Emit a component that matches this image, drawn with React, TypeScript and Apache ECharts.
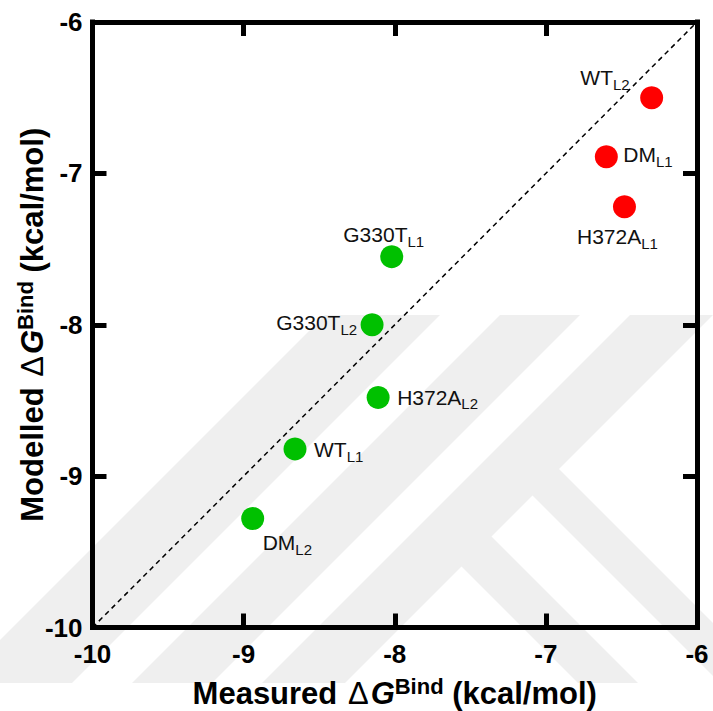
import React, { useEffect, useRef } from 'react';
import * as echarts from 'echarts';

// ---------- data ----------
const axisMin = -10;
const axisMax = -6;
const axisStep = 1;

const redNames = ['WT', 'DM', 'H372A'];
const redSubs = ['L2', 'L1', 'L1'];
const redMeasured = [-6.30, -6.60, -6.48];
const redModelled = [-6.50, -6.89, -7.22];

const greenNames = ['G330T', 'G330T', 'H372A', 'WT', 'DM'];
const greenSubs = ['L1', 'L2', 'L2', 'L1', 'L2'];
const greenMeasured = [-8.02, -8.15, -8.11, -8.66, -8.94];
const greenModelled = [-7.55, -8.00, -8.48, -8.82, -9.28];

const identityLine = [-10, -6];

// ---------- styles ----------
const FONT = '"Liberation Sans", Arial, Helvetica, sans-serif';

const redLabelPlace = [
  { align: 'right', offset: [-22, -20] },
  { align: 'left', offset: [17, -2] },
  { align: 'center', offset: [-7, 30] },
];
const greenLabelPlace = [
  { align: 'center', offset: [-8, -22] },
  { align: 'right', offset: [-15, -2] },
  { align: 'left', offset: [19, 0] },
  { align: 'left', offset: [19, 1] },
  { align: 'left', offset: [10, 24] },
];

const labelRich = {
  n: { fontSize: 21, fontFamily: FONT, color: '#111111', lineHeight: 28 },
  s: { fontSize: 15, fontFamily: FONT, color: '#111111', lineHeight: 14, verticalAlign: 'bottom' },
};

const titleRich = {
  t: { fontSize: 31, fontWeight: 'bold', fontFamily: FONT, color: '#000', lineHeight: 36 },
  d: { fontSize: 31, fontWeight: 'normal', fontFamily: FONT, color: '#000', lineHeight: 36, padding: [0, 2, 0, 2] },
  g: { fontSize: 31, fontWeight: 'bold', fontStyle: 'italic', fontFamily: FONT, color: '#000', lineHeight: 36 },
  sup: { fontSize: 22, fontWeight: 'bold', fontFamily: FONT, color: '#000', lineHeight: 8, verticalAlign: 'top' },
};

// watermark bands (decorative, pixel geometry)
const WM = '#efefef';
const slashBand = (c1: number, c2: number, yTop: number, yBot: number) => [
  [c1 - yTop, yTop], [c2 - yTop, yTop], [c2 - yBot, yBot], [c1 - yBot, yBot],
];
const watermark = [
  slashBand(640, 755, 315, 683),
  slashBand(815, 895, 315, 683),
  slashBand(945, 1028, 315, 683),
  [[540, 450], [713, 623], [713, 676], [513.5, 476.5]],
  [[472.5, 517.5], [638, 683], [578, 683], [442.5, 547.5]],
];

function makePoints(xs: number[], ys: number[], names: string[], subs: string[], place: any[]) {
  return xs.map((x, i) => ({
    value: [x, ys[i]],
    label: {
      show: true,
      position: ['50%', '50%'],
      align: place[i].align,
      verticalAlign: 'middle',
      offset: place[i].offset,
      formatter: `{n|${names[i]}}{s|${subs[i]}}`,
      rich: labelRich,
      color: '#111111',
      textBorderWidth: 0,
    },
  }));
}

export default function App() {
  const ref = useRef<HTMLDivElement>(null);

  useEffect(() => {
    if (!ref.current) return;
    const chart = echarts.init(ref.current, null, { renderer: 'svg' });

    const axisLine = { onZero: false, lineStyle: { color: '#000', width: 5, cap: 'square' } };
    const axisTick = { inside: true, length: 14, lineStyle: { color: '#000', width: 5 } };
    const tickLabel = { fontSize: 26, fontWeight: 'bold', color: '#000', fontFamily: FONT };

    chart.setOption({
      animation: false,
      backgroundColor: '#ffffff',
      grid: {
        left: 92.5, right: 16, top: 22, bottom: 83.5,
        containLabel: false, outerBoundsMode: 'none',
      },
      graphic: watermark.map((pts) => ({
        type: 'polygon',
        z: -100,
        silent: true,
        shape: { points: pts },
        style: { fill: WM },
      })),
      xAxis: [
        {
          type: 'value', min: axisMin, max: axisMax, interval: axisStep, position: 'bottom',
          axisLine, axisTick,
          axisLabel: { ...tickLabel, margin: 13 },
          splitLine: { show: false },
          name: '{t|Measured }{d|Δ}{g|G}{sup|Bind}{t| (kcal/mol)}',
          nameLocation: 'middle', nameGap: 48,
          nameTextStyle: { rich: titleRich },
        },
        {
          type: 'value', min: axisMin, max: axisMax, interval: axisStep, position: 'top',
          axisLine, axisTick, axisLabel: { show: false }, splitLine: { show: false },
        },
      ],
      yAxis: [
        {
          type: 'value', min: axisMin, max: axisMax, interval: axisStep, position: 'left',
          axisLine, axisTick,
          axisLabel: { ...tickLabel, margin: 10 },
          splitLine: { show: false },
          name: '{t|Modelled }{d|Δ}{g|G}{sup|Bind}{t| (kcal/mol)}',
          nameLocation: 'middle', nameGap: 42, nameRotate: 90,
          nameMoveOverlap: false,
          nameTextStyle: { rich: titleRich },
        },
        {
          type: 'value', min: axisMin, max: axisMax, interval: axisStep, position: 'right',
          axisLine, axisTick, axisLabel: { show: false }, splitLine: { show: false },
        },
      ],
      series: [
        {
          type: 'line',
          data: [[identityLine[0], identityLine[0]], [identityLine[1], identityLine[1]]],
          symbol: 'none',
          silent: true,
          z: 1,
          lineStyle: { color: '#000', width: 1.5, type: [5, 4] },
        },
        {
          type: 'scatter',
          symbolSize: 23,
          itemStyle: { color: '#ff0000', opacity: 1 },
          z: 3,
          data: makePoints(redMeasured, redModelled, redNames, redSubs, redLabelPlace),
        },
        {
          type: 'scatter',
          symbolSize: 23,
          itemStyle: { color: '#00c000', opacity: 1 },
          z: 3,
          data: makePoints(greenMeasured, greenModelled, greenNames, greenSubs, greenLabelPlace),
        },
      ],
    });

    return () => chart.dispose();
  }, []);

  return (
    <div
      ref={ref}
      style={{ position: 'fixed', left: 0, top: 0, width: 713, height: 711, background: '#fff' }}
    />
  );
}
